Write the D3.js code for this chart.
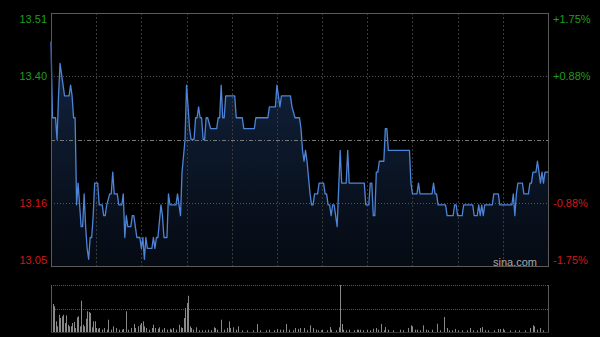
<html>
<head>
<meta charset="utf-8">
<title>Intraday chart</title>
<style>
 body{margin:0;background:#000;}
 svg{display:block;}
 text{font-family:Arial,'Liberation Sans',sans-serif;font-size:11px;}
</style>
<script src="https://cdnjs.cloudflare.com/ajax/libs/d3/7.8.5/d3.min.js"></script>
</head>
<body>
<div id="plot"></div>
<script>
  var prevClose = 13.28;

  // minute index from 9:30 (150 = 12:00/13:00, 330 = 16:00)
  var priceTimes = [0,1,3,4,5,6,9,12,13,14,15,16,17,18,19,20,21,22,23,24,25,26,27,28,29,31,32,34,35,36,37,39,40,41,42,44,45,47,48,49,50,51,53,54,55,56,57,59,60,61,62,63,64,67,68,69,70,71,73,74,75,77,78,79,83,84,85,86,87,89,90,91,92,93,95,96,97,98,99,100,101,102,103,104,106,110,111,112,113,114,115,116,122,123,127,128,135,136,144,145,149,150,151,152,153,159,160,162,165,166,167,168,169,170,172,173,174,175,177,178,181,182,183,184,185,186,187,188,190,192,193,196,197,198,208,209,211,212,213,214,215,216,217,218,221,222,223,224,238,239,240,243,244,245,253,254,255,256,257,262,263,267,268,269,270,273,274,280,281,283,284,285,286,287,288,293,294,297,298,306,307,308,309,310,313,314,317,318,319,320,322,323,324,325,326,327,328,330];
  var prices = [13.46,13.32,13.32,13.28,13.36,13.42,13.36,13.36,13.38,13.36,13.32,13.32,13.16,13.20,13.16,13.12,13.12,13.18,13.12,13.08,13.06,13.10,13.10,13.14,13.20,13.20,13.16,13.16,13.14,13.14,13.16,13.18,13.18,13.22,13.18,13.18,13.16,13.16,13.18,13.10,13.14,13.12,13.12,13.14,13.14,13.12,13.10,13.10,13.08,13.10,13.06,13.10,13.08,13.08,13.10,13.08,13.10,13.10,13.16,13.14,13.10,13.10,13.18,13.16,13.16,13.18,13.16,13.14,13.22,13.28,13.38,13.34,13.30,13.28,13.28,13.32,13.32,13.34,13.32,13.32,13.28,13.28,13.32,13.32,13.30,13.30,13.32,13.32,13.38,13.32,13.32,13.36,13.36,13.32,13.32,13.30,13.30,13.32,13.32,13.34,13.34,13.38,13.36,13.34,13.36,13.36,13.34,13.32,13.32,13.30,13.26,13.24,13.26,13.24,13.18,13.16,13.16,13.18,13.18,13.20,13.20,13.18,13.18,13.16,13.16,13.14,13.16,13.16,13.12,13.26,13.20,13.20,13.26,13.20,13.20,13.16,13.16,13.20,13.20,13.14,13.14,13.22,13.22,13.24,13.24,13.30,13.30,13.26,13.26,13.20,13.18,13.18,13.20,13.18,13.18,13.20,13.18,13.18,13.16,13.16,13.14,13.14,13.16,13.16,13.14,13.14,13.16,13.16,13.14,13.14,13.16,13.14,13.16,13.14,13.16,13.16,13.18,13.18,13.16,13.16,13.18,13.14,13.18,13.20,13.20,13.18,13.18,13.20,13.20,13.22,13.22,13.24,13.22,13.20,13.22,13.20,13.22,13.22];

  var volTimes = [0,1,2,3,4,5,6,7,8,9,10,11,12,13,14,15,16,17,18,19,20,21,22,23,24,25,26,27,28,29,30,31,32,34,35,37,38,40,41,43,45,47,48,50,51,53,55,56,58,59,60,61,62,63,65,67,68,69,71,72,74,75,77,79,80,81,83,85,86,87,88,89,90,91,92,93,94,96,98,100,102,104,106,108,109,110,113,115,117,118,119,121,123,124,127,130,134,137,139,143,145,148,150,152,154,156,158,161,162,164,165,168,170,172,174,176,177,179,180,183,185,186,189,191,192,193,194,196,198,201,203,204,205,207,210,212,214,216,217,219,221,222,224,227,232,234,237,239,240,242,243,245,247,249,250,253,256,258,261,263,264,266,268,270,273,276,278,280,283,285,286,288,290,294,297,298,300,301,305,308,311,315,318,320,321,323,325,327,330];
  var volumes = [207,280,257,107,57,173,140,157,173,90,167,73,57,57,90,100,40,147,157,57,313,73,57,133,207,200,190,47,107,107,40,33,40,23,40,23,123,23,57,40,23,23,30,207,23,40,80,40,57,73,90,107,57,40,23,40,73,40,33,47,23,40,23,33,23,40,23,73,47,40,140,240,290,363,57,40,23,47,17,17,17,23,17,47,40,23,123,23,40,107,40,47,23,57,17,17,17,80,17,17,23,17,30,23,23,80,23,17,40,30,40,40,17,67,40,23,17,17,23,17,50,23,17,47,470,80,23,17,23,17,23,23,23,17,23,17,33,40,23,80,17,50,23,17,23,17,40,67,57,23,23,17,67,23,17,23,83,17,150,40,17,17,30,17,17,17,40,17,17,40,50,17,17,17,30,30,33,17,17,17,17,17,40,67,57,23,40,17,23];

  var leftLabels = ["13.51", "13.40", "13.16", "13.05"];
  var rightLabels = ["+1.75%", "+0.88%", "-0.88%", "-1.75%"];
  var labelPcts = [0.0175, 0.00875, -0.00875, -0.0175];

  var w = 600, h = 337;
  var pLeft = 51, pRight = 548, pTop = 13, pBottom = 266;
  var vTop = 285, vBottom = 332;

  var svg = d3.select("#plot").append("svg")
    .attr("width", w).attr("height", h)
    .style("background", "#000");

  var x = d3.scaleLinear().domain([0, 330]).range([pLeft, pRight]);
  var y = d3.scaleLinear()
    .domain([prevClose * (1 - 0.0175), prevClose * (1 + 0.0175)])
    .range([pBottom, pTop]);
  var yv = d3.scaleLinear().domain([0, d3.max(volumes)]).range([vBottom, vTop]);

  var grad = svg.append("defs").append("linearGradient")
    .attr("id", "fill").attr("gradientUnits", "userSpaceOnUse")
    .attr("x1", 0).attr("y1", pTop).attr("x2", 0).attr("y2", pBottom);
  grad.append("stop").attr("offset", "0%").attr("stop-color", "#1d3a66").attr("stop-opacity", 0.75);
  grad.append("stop").attr("offset", "100%").attr("stop-color", "#0b1526").attr("stop-opacity", 0.5);

  var pts = priceTimes.map(function(t, i) { return [t, prices[i]]; });

  // area under the price line
  svg.append("path")
    .datum(pts)
    .attr("fill", "url(#fill)")
    .attr("d", d3.area()
      .x(function(d) { return x(d[0]); })
      .y0(pBottom)
      .y1(function(d) { return y(d[1]); }));

  // vertical grid, every half hour
  svg.selectAll(".vgrid")
    .data(d3.range(30, 330, 30))
    .enter().append("line")
    .attr("x1", function(d) { return Math.round(x(d)) + 0.5; })
    .attr("x2", function(d) { return Math.round(x(d)) + 0.5; })
    .attr("y1", pTop).attr("y2", pBottom)
    .attr("stroke", "#3a3a3a")
    .attr("stroke-dasharray", "2,2");

  // horizontal grid
  svg.selectAll(".hgrid")
    .data([0.00875, -0.00875])
    .enter().append("line")
    .attr("x1", pLeft).attr("x2", pRight)
    .attr("y1", function(d) { return Math.round(y(prevClose * (1 + d))) + 0.5; })
    .attr("y2", function(d) { return Math.round(y(prevClose * (1 + d))) + 0.5; })
    .attr("stroke", "#555")
    .attr("stroke-dasharray", "1,2");

  svg.append("line")
    .attr("x1", pLeft).attr("x2", pRight)
    .attr("y1", Math.round(y(prevClose)) + 0.5).attr("y2", Math.round(y(prevClose)) + 0.5)
    .attr("stroke", "#777")
    .attr("stroke-dasharray", "4,2,1,2");

  // price line
  svg.append("path")
    .datum(pts)
    .attr("fill", "none")
    .attr("stroke", "#4d84d6")
    .attr("stroke-width", 1.3)
    .attr("stroke-linejoin", "round")
    .attr("d", d3.line()
      .x(function(d) { return x(d[0]); })
      .y(function(d) { return y(d[1]); }));

  // frame
  svg.append("rect")
    .attr("x", pLeft + 0.5).attr("y", pTop + 0.5)
    .attr("width", pRight - pLeft).attr("height", pBottom - pTop)
    .attr("fill", "none").attr("stroke", "#5a5a5a");

  // axis labels
  labelPcts.forEach(function(p, i) {
    var yy = y(prevClose * (1 + p));
    if (i == 0) yy += 6;
    if (i == labelPcts.length - 1) yy -= 6;
    var col = p > 0 ? "#1e9e1e" : "#d01818";
    svg.append("text")
      .attr("x", 47).attr("y", yy)
      .attr("dy", "0.35em")
      .attr("text-anchor", "end")
      .attr("fill", col)
      .text(leftLabels[i]);
    svg.append("text")
      .attr("x", 553).attr("y", yy)
      .attr("dy", "0.35em")
      .attr("fill", col)
      .text(rightLabels[i]);
  });

  svg.append("text")
    .attr("x", 537).attr("y", 262)
    .attr("dy", "0.35em")
    .attr("text-anchor", "end")
    .attr("fill", "#a8a8a8")
    .text("sina.com");

  // volume panel
  svg.append("line")
    .attr("x1", pLeft).attr("x2", pRight)
    .attr("y1", vTop + 0.5).attr("y2", vTop + 0.5)
    .attr("stroke", "#555").attr("stroke-dasharray", "1,1");
  svg.append("line")
    .attr("x1", pLeft).attr("x2", pRight)
    .attr("y1", Math.round((vTop + vBottom) / 2) + 0.5).attr("y2", Math.round((vTop + vBottom) / 2) + 0.5)
    .attr("stroke", "#555").attr("stroke-dasharray", "1,1");

  svg.selectAll(".vol")
    .data(volTimes)
    .enter().append("rect")
    .attr("x", function(d) { return Math.round(x(d)); })
    .attr("width", 1)
    .attr("y", function(d, i) { return yv(volumes[i]); })
    .attr("height", function(d, i) { return vBottom - yv(volumes[i]); })
    .attr("fill", "#888");

  svg.append("line")
    .attr("x1", pLeft + 0.5).attr("x2", pLeft + 0.5)
    .attr("y1", vTop).attr("y2", vBottom + 1)
    .attr("stroke", "#5a5a5a");
  svg.append("line")
    .attr("x1", pRight + 0.5).attr("x2", pRight + 0.5)
    .attr("y1", vTop).attr("y2", vBottom + 1)
    .attr("stroke", "#5a5a5a");
  svg.append("line")
    .attr("x1", pLeft).attr("x2", pRight + 1)
    .attr("y1", vBottom + 0.5).attr("y2", vBottom + 0.5)
    .attr("stroke", "#333");
</script>
</body>
</html>
